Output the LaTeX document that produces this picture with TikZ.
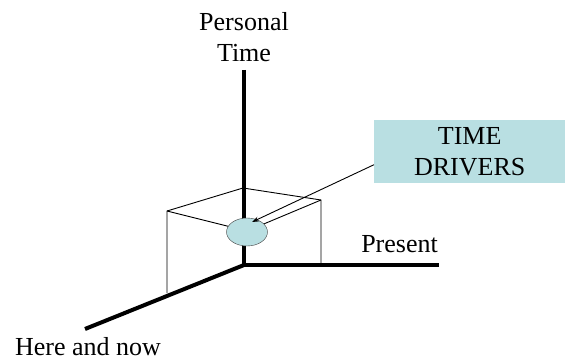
\documentclass[tikz,border=0pt]{standalone}
\usepackage{fontspec}
\setmainfont{Liberation Serif}
\usetikzlibrary{arrows.meta,positioning,shapes.geometric}
\definecolor{driverfill}{HTML}{B9DFE2}
\tikzset{
  axis/.style ={line width=4pt},
  edge/.style ={line width=0.9pt},
  lbl/.style  ={font=\fontsize{26}{31}\selectfont,align=center,inner sep=0pt},
  ar/.style   ={-{Stealth[length=7pt,width=5pt]},line width=0.9pt},
}
\begin{document}
\begin{tikzpicture}[x=1pt,y=-1pt]
  \useasboundingbox (0,0) rectangle (565,361);
  \coordinate (O) at (244,265);
  \coordinate (up) at (244,70);
  \coordinate (right) at (439,265);
  \coordinate (front) at (85,329);
  % the open box
  \coordinate (bl) at (167,293); \coordinate (tl) at (167,211);
  \coordinate (tb) at (243,188); \coordinate (tr) at (321,200);
  \coordinate (br) at (321,265); \coordinate (tf) at (247,231);
  \draw[edge] (bl) -- (tl) -- (tb) -- (tr) -- (br);
  \draw[edge] (tl) -- (tf) -- (tr);
  \draw[axis] (up) -- (O) -- (right);
  \draw[axis] (O) -- (front);
  \node[ellipse,draw=black!75,fill=driverfill,minimum width=41pt,minimum height=28pt,inner sep=0pt] (drv) at (247,232) {};
  \node[lbl,fill=driverfill,minimum width=191pt,minimum height=63pt,anchor=north west] (box) at (374,120) {TIME\\DRIVERS};
  \coordinate (tail) at ([yshift=-13pt]box.west);
  \coordinate (tip) at ([shift={(5pt,10pt)}]drv.center);
  \draw[ar] (tail) -- (tip);
  % axis labels
  \node[lbl,above=8pt of up] (ptime) {Personal\\Time};
  \node[lbl,above left=12pt and 1pt of right] (present) {Present};
  \node[lbl,below=8pt of front,xshift=3pt] (here) {Here and now};
\end{tikzpicture}
\end{document}
